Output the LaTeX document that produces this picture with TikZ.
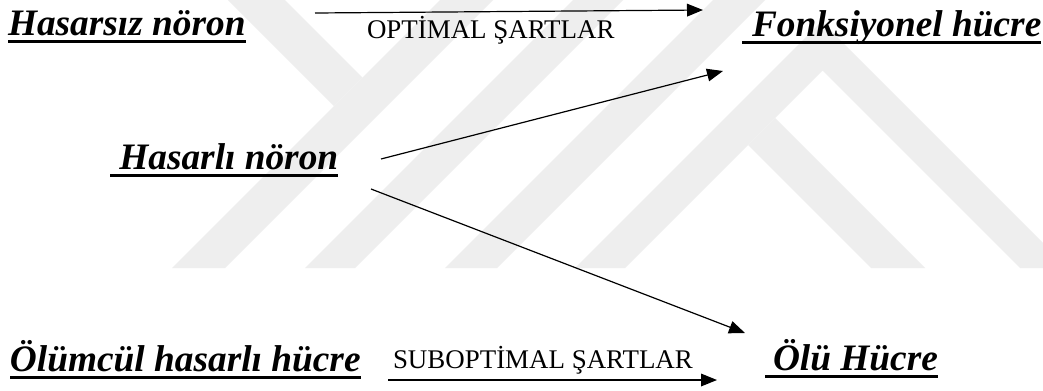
\documentclass[tikz,border=0pt]{standalone}
\usepackage{fontspec}
\setmainfont{Liberation Serif}
\usetikzlibrary{arrows.meta}
\definecolor{wm}{HTML}{EEEEEE}
\tikzset{
  bigtxt/.style={inner sep=0pt, outer sep=0pt, anchor=base west,
    font=\rmfamily\fontsize{28}{30}\selectfont\bfseries\itshape},
  smalltxt/.style={inner sep=0pt, outer sep=0pt, anchor=base west,
    font=\rmfamily\fontsize{20.2}{22}\selectfont},
  ulline/.style={line width=2.3pt},
  conn/.style={line width=0.9pt, -{Triangle[length=12pt,width=9.5pt]}},
  wmark/.style={fill=wm, draw=none}
}
\begin{document}
\begin{tikzpicture}[x=0.75pt,y=-0.75pt]
\useasboundingbox[fill=white] (0,0) rectangle (1043,390);
% watermark
\fill[wmark] (172,268) -- (225,268) -- (493,0) -- (440,0) -- cycle;
\fill[wmark] (228,0) -- (285,0) -- (362.5,77.5) -- (334,106) -- cycle;
\fill[wmark] (305,268) -- (355,268) -- (623,0) -- (573,0) -- cycle;
\fill[wmark] (445,268) -- (497,268) -- (765,0) -- (713,0) -- cycle;
\fill[wmark] (575,268) -- (821.5,21.5) -- (1068,268) -- (1020,268) -- (822.5,70.5) -- (625,268) -- cycle;
\fill[wmark] (871,268) -- (925,268) -- (775,118) -- (748,145) -- cycle;
% labels
\node[bigtxt] (n1) at (8,35) {Hasarsız nöron};
\node[bigtxt] (n2) at (742,36) {\hspace*{7.5pt}Fonksiyonel hücre};
\node[bigtxt] (n3) at (110,169) {\hspace*{7pt}Hasarlı nöron};
\node[bigtxt] (n4) at (10,371) {Ölümcül hasarlı hücre};
\node[bigtxt] (n5) at (765,370) {\hspace*{6pt}Ölü Hücre};
\node[smalltxt] (l1) at (367,38) {OPTİMAL ŞARTLAR};
\node[smalltxt] (l2) at (393,368) {SUBOPTİMAL ŞARTLAR};
% underlines
\foreach \n in {n1,n2,n3,n4,n5}{
  \draw[ulline] ([yshift=-4.6pt]\n.base west) -- ([yshift=-4.6pt]\n.base east);
}
% connectors
\coordinate (a1s) at (315,13);
\coordinate (a1e) at (703,10);
\coordinate (a2s) at (381,159);
\coordinate (a2e) at (723,71);
\coordinate (a3s) at (371,189);
\coordinate (a3e) at (745,333);
\coordinate (a4s) at (388,380);
\coordinate (a4e) at (717,380);
\draw[conn] (a1s) -- (a1e);
\draw[conn] (a2s) -- (a2e);
\draw[conn] (a3s) -- (a3e);
\draw[conn] (a4s) -- (a4e);
\end{tikzpicture}
\end{document}
